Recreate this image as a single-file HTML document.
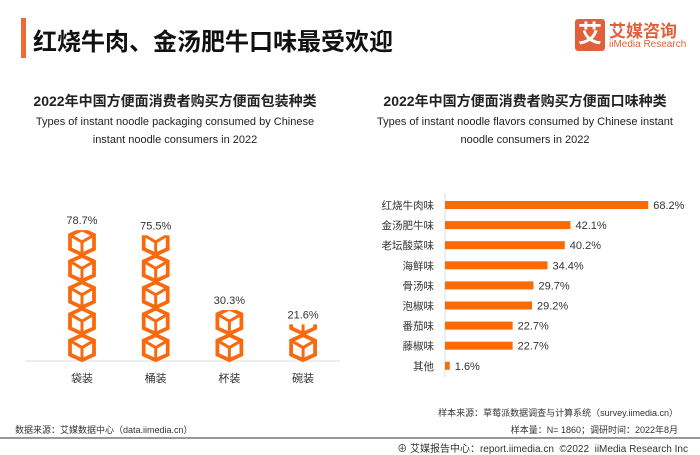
<!DOCTYPE html>
<html><head><meta charset="utf-8">
<style>
body{margin:0;width:700px;height:455px;background:#fff;overflow:hidden;font-family:"Liberation Sans","Noto Sans CJK SC",sans-serif;position:relative;color:#222}
.a{position:absolute;white-space:nowrap}
</style></head><body>
<div class="a" style="left:21px;top:18px;width:5px;height:40px;background:#f06a35"></div>
<div class="a" style="left:33px;top:22px;font-size:24px;font-weight:bold;color:#111">红烧牛肉、金汤肥牛口味最受欢迎</div>
<div class="a" style="left:575px;top:19px;">
 <div style="position:absolute;left:0;top:0;width:30px;height:32px;background:#e0603a;border-radius:3px;color:#fff;font-size:24px;font-weight:bold;text-align:center;line-height:32px">艾</div>
 <div class="a" style="left:34px;top:-2px;font-size:17px;font-weight:bold;color:#e0603a">艾媒咨询</div>
 <div class="a" style="left:34px;top:20px;font-size:10px;color:#e0603a">iiMedia Research</div>
</div>
<div class="a" style="left:0;width:350px;text-align:center;top:91px;font-size:14px;font-weight:bold">2022年中国方便面消费者购买方便面包装种类</div>
<div class="a" style="left:0;width:350px;text-align:center;top:113px;font-size:11px;line-height:18px;white-space:normal">Types of instant noodle packaging consumed by Chinese<br>instant noodle consumers in 2022</div>
<div class="a" style="left:350px;width:350px;text-align:center;top:91px;font-size:14px;font-weight:bold">2022年中国方便面消费者购买方便面口味种类</div>
<div class="a" style="left:350px;width:350px;text-align:center;top:113px;font-size:11px;line-height:18px;white-space:normal">Types of instant noodle flavors consumed by Chinese instant<br>noodle consumers in 2022</div>

<svg class="a" style="left:0;top:0" width="700" height="455">
<defs>
<g id="cube">
<polygon points="13,1.5 25,7 25,21 13,26.5 1,21 1,7" fill="none" stroke="#f96a0e" stroke-width="3.8" stroke-linejoin="miter"/>
<polyline points="1,7 13,14 25,7" fill="none" stroke="#f96a0e" stroke-width="3"/>
<line x1="13" y1="14" x2="13" y2="27" stroke="#f96a0e" stroke-width="3"/>
</g>
</defs>
<g id="left"></g><g id="right"></g>
</svg>

<div class="a" style="left:15px;top:423px;font-size:9px;color:#333">数据来源：艾媒数据中心（data.iimedia.cn）</div>
<div class="a" style="right:22px;top:406px;font-size:9px;color:#333">样本来源：草莓派数据调查与计算系统（survey.iimedia.cn）</div>
<div class="a" style="right:22px;top:423px;font-size:9px;color:#333">样本量：N= 1860；调研时间：2022年8月</div>
<div class="a" style="left:0;top:437px;width:700px;height:2px;background:#999"></div>
<div class="a" style="right:12px;top:440px;font-size:10px;color:#333">⊕ 艾媒报告中心：report.iimedia.cn &nbsp;©2022 &nbsp;iiMedia Research Inc</div>

<script>
const packCats=["袋装","桶装","杯装","碗装"];
const packVals=[78.7,75.5,30.3,21.6];
const flavorCats=["红烧牛肉味","金汤肥牛味","老坛酸菜味","海鲜味","骨汤味","泡椒味","番茄味","藤椒味","其他"];
const flavorVals=[68.2,42.1,40.2,34.4,29.7,29.2,22.7,22.7,1.6];
const NS="http://www.w3.org/2000/svg";
function mk(t,a,p){const e=document.createElementNS(NS,t);for(const k in a)e.setAttribute(k,a[k]);p.appendChild(e);return e;}
const L=document.getElementById('left');
const base=360,pxPer=1.65,cubeH=26.4;
const xc=i=>82+i*73.7;
const ax=mk('line',{x1:25,x2:340,y1:361,y2:361,stroke:'#ddd','stroke-width':1},L);

packVals.forEach((v,i)=>{
 const h=v*pxPer,top=base-h,x=xc(i)-13;
 const cp=mk('clipPath',{id:'cp'+i},L);mk('rect',{x:x-3,y:top,width:32,height:h+2},cp);
 const g=mk('g',{'clip-path':'url(#cp'+i+')'},L);
 
 const n=Math.ceil(h/cubeH);
 for(let k=0;k<n;k++){mk('use',{href:'#cube',x:x,y:base-(k+1)*cubeH},g);}
 const t=mk('text',{x:xc(i),y:top-6,'text-anchor':'middle','font-size':11,fill:'#333'},L);t.textContent=v.toFixed(1)+'%';
 
 const c=mk('text',{x:xc(i),y:382,'text-anchor':'middle','font-size':11,fill:'#333'},L);c.textContent=packCats[i];
 
});
const R=document.getElementById('right');
const x0=445,xs=2.98,yr=i=>205+i*20.1;
const ya=mk('line',{x1:x0,x2:x0,y1:193,y2:377,stroke:'#ddd','stroke-width':1},R);

flavorVals.forEach((v,i)=>{
 const b=mk('rect',{x:x0,y:yr(i)-4,width:v*xs,height:8,fill:'#fc6a06'},R);
 
 const t=mk('text',{x:x0+v*xs+5,y:yr(i)+4,'font-size':11,fill:'#333'},R);t.textContent=v.toFixed(1)+'%';
 
 const c=mk('text',{x:434,y:yr(i)+4,'text-anchor':'end','font-size':10.5,fill:'#333'},R);c.textContent=flavorCats[i];
 
});
</script>
</body></html>
